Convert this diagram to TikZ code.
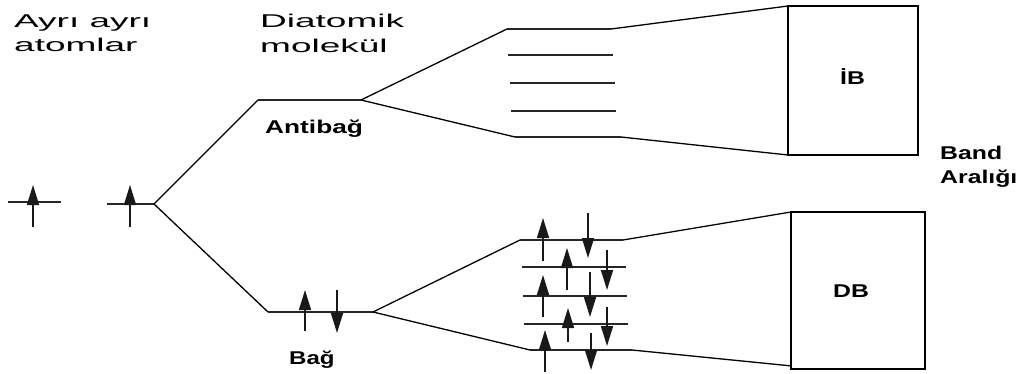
\documentclass[tikz,border=0pt]{standalone}
\usepackage{graphicx}
\usepackage{fontspec}
\setmainfont{Liberation Sans}
\newfontfamily\regf{Liberation Sans}
\newfontfamily\boldf{Liberation Sans Bold}
\newcommand{\regtxt}[1]{\scalebox{2}[1]{#1}}
\newcommand{\boldtxt}[2][1.34]{\scalebox{#1}[1]{#2}}
\usetikzlibrary{arrows.meta}
\tikzset{
  reglab/.style={inner sep=0pt, anchor=base west, font=\regf\fontsize{18.5}{22}\selectfont},
  boldlab/.style={inner sep=0pt, anchor=base west, font=\boldf\fontsize{18.5}{22}\selectfont},
  fan/.style={line width=1.3pt, black},
  level/.style={line width=2.4pt, black!85},
  boxline/.style={line width=1.3pt, black},
  spin/.style={line width=1.6pt, black!90, -{Triangle[length=20pt,width=12pt]}},
}
\begin{document}
\begin{tikzpicture}[x=1pt,y=-1pt]
\useasboundingbox (0,0) rectangle (1024,374);

% titles
\node[reglab] (ta) at (14,28) {\regtxt{Ayrı ayrı}};
\node[reglab] (tb) at (14,52) {\regtxt{atomlar}};
\node[reglab] (tc) at (260,28) {\regtxt{Diatomik}};
\node[reglab] (td) at (260,53) {\regtxt{molekül}};

% atoms
\coordinate (a1l) at (8,202);  \coordinate (a1r) at (61,202);
\coordinate (a2l) at (107,204); \coordinate (a2r) at (154,204);
\draw[level, line width=1.6pt] (a1l) -- (a1r);
\draw[level, line width=1.6pt] (a2l) -- (a2r);
\draw[spin] (33,227) -- (33,185);
\draw[spin] (130,227) -- (130,185);

% molecular levels
\coordinate (abl) at (258,100); \coordinate (abr) at (361,100);
\coordinate (bl) at (268,312);  \coordinate (br) at (373,312);
\draw[fan] (a2r) -- (abl);
\draw[fan] (a2r) -- (bl);
\draw[level] (abl) -- (abr);
\draw[level] (bl) -- (br);
\draw[spin] (305,331) -- (305,290);
\draw[spin] (337,290) -- (337,333);
\node[boldlab] (anti) at (265,134) {\boldtxt[1.42]{Antibağ}};
\node[boldlab] (bag) at (289,364) {\boldtxt[1.3]{Bağ}};

% upper band levels
\coordinate (u1l) at (507,29);  \coordinate (u1r) at (611,29);
\coordinate (u2l) at (508,55);  \coordinate (u2r) at (613,55);
\coordinate (u3l) at (510,83);  \coordinate (u3r) at (615,83);
\coordinate (u4l) at (511,111); \coordinate (u4r) at (616,111);
\coordinate (u5l) at (515,137); \coordinate (u5r) at (621,137);
\foreach \i in {1,...,5} { \draw[level] (u\i l) -- (u\i r); }
\draw[fan] (abr) -- (u1l);
\draw[fan] (abr) -- (u5l);

% lower band levels
\coordinate (d1l) at (520,240); \coordinate (d1r) at (623,240);
\coordinate (d2l) at (522,267); \coordinate (d2r) at (626,267);
\coordinate (d3l) at (523,296); \coordinate (d3r) at (627,296);
\coordinate (d4l) at (524,324); \coordinate (d4r) at (628,324);
\coordinate (d5l) at (530,350); \coordinate (d5r) at (632,350);
\foreach \i in {1,...,5} { \draw[level] (d\i l) -- (d\i r); }
\draw[fan] (br) -- (d1l);
\draw[fan] (br) -- (d5l);

\draw[spin] (543,261) -- (543,218);
\draw[spin] (588,213) -- (588,258);
\draw[spin] (567,290) -- (567,248);
\draw[spin] (607,250) -- (607,290);
\draw[spin] (543,317) -- (543,275);
\draw[spin] (590,272) -- (590,317);
\draw[spin] (568,342) -- (568,308);
\draw[spin] (607,307) -- (607,346);
\draw[spin] (545,372) -- (545,330);
\draw[spin] (591,333) -- (591,370);

% bands
\draw[boxline] (788,6) rectangle (918,155);
\draw[boxline] (791,212) rectangle (925,369);
\coordinate (ibtl) at (788,6); \coordinate (ibbl) at (788,155);
\coordinate (dbtl) at (791,212); \coordinate (dbbl) at (792,366);
\draw[fan] (u1r) -- (ibtl);
\draw[fan] (u5r) -- (ibbl);
\draw[fan] (d1r) -- (dbtl);
\draw[fan] (d5r) -- (dbbl);
\node[boldlab] (ibl) at (840,85) {\boldtxt{İB}};
\node[boldlab] (dbl) at (833,297) {\boldtxt{DB}};
\node[boldlab] (bg1) at (940,160) {\boldtxt{Band}};
\node[boldlab] (bg2) at (940,183) {\boldtxt{Aralığı}};
\end{tikzpicture}
\end{document}
